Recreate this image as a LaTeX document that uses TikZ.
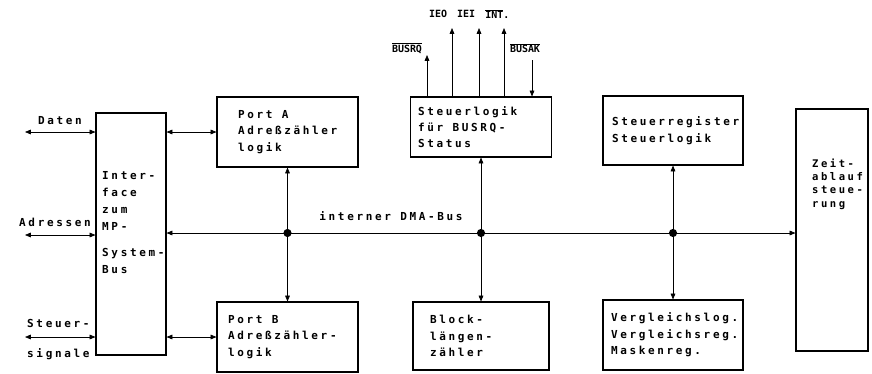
\documentclass[tikz,border=0pt]{standalone}
\usepackage{fontspec}
\newfontfamily\boxfont[LetterSpace=24]{DejaVu Sans Mono Bold}
\newfontfamily\pinmono{DejaVu Sans Mono Bold}
\usetikzlibrary{arrows.meta,calc}
\newcommand{\wgap}{\hspace{0.85em}}

\begin{document}
\begin{tikzpicture}[x=1cm,y=1cm,font=\boxfont\fontsize{9.4}{14}\selectfont,
  unit/.style={draw,line width=0.9pt,align=left,inner sep=0pt},
  lbl/.style={inner sep=0pt},
  pin/.style={inner sep=0pt,font=\pinmono\fontsize{8.5}{10}\selectfont},
  sig/.style={line width=0.6pt,-{Triangle[length=5pt,width=4pt]}},
  both/.style={line width=0.6pt,{Triangle[length=5pt,width=4pt]}-{Triangle[length=5pt,width=4pt]}},
  dot/.style={circle,fill,inner sep=0pt,minimum size=7pt}]

\useasboundingbox (0,0) rectangle (26.16,-11.19);

% blocks
\node[unit,minimum width=2.1cm,minimum height=7.26cm] (iface) at (3.93,-7.02) {};
\node[unit,minimum width=4.23cm,minimum height=2.1cm,text width=2.97cm] (porta) at (8.625,-3.96) {Port\wgap A\\Adreßzähler\\logik};
\node[unit,minimum width=4.23cm,minimum height=2.1cm,text width=3.57cm] (portb) at (8.625,-10.11) {Port\wgap B\\Adreßzähler-\\logik\\[-0.2cm]};
\node[unit,minimum width=4.23cm,minimum height=1.8cm,text width=3.78cm] (steuer) at (14.43,-3.81) {Steuerlogik\\für\wgap BUSRQ-\\Status};
\node[unit,minimum width=4.08cm,minimum height=2.04cm,text width=3.06cm] (block) at (14.43,-10.08) {Block-\\längen-\\zähler};
\node[unit,minimum width=4.2cm,minimum height=2.07cm,text width=3.66cm] (sreg) at (20.19,-3.915) {Steuerregister\\Steuerlogik};
\node[unit,minimum width=4.2cm,minimum height=2.1cm,text width=3.72cm] (vergl) at (20.19,-10.05) {Vergleichslog.\\Vergleichsreg.\\Maskenreg.};
\node[unit,minimum width=2.16cm,minimum height=7.26cm] (zeit) at (24.96,-6.90) {};

\node[lbl,anchor=north west,align=left,font=\boxfont\fontsize{9.4}{14.5}\selectfont] (ifacetxt) at (3.06,-5.15) {Inter-\\face\\zum\\MP-\\[0.27cm]System-\\Bus};
\node[lbl,anchor=north west,align=left,font=\boxfont\fontsize{9}{11.4}\selectfont] (zeittxt) at (24.36,-4.75) {Zeit-\\ablauf\\steue-\\rung};

% outside signals
\coordinate (datenend) at (0.75,-3.96);
\coordinate (adrend) at (0.75,-7.05);
\coordinate (sigend) at (0.75,-10.11);
\node[lbl] (datenlbl) at (1.8,-3.63) {Daten};
\node[lbl] (adrlbl) at (1.65,-6.66) {Adressen};
\node[lbl,anchor=west] (steuerlbl) at (0.81,-9.69) {Steuer-};
\node[lbl,anchor=west] (signallbl) at (0.81,-10.62) {signale};
\draw[both] (datenend) -- (datenend -| iface.west);
\draw[both] (adrend) -- (adrend -| iface.west);
\draw[both] (sigend) -- (sigend -| iface.west);

\draw[both] (iface.east |- porta) -- (porta.west);
\draw[both] (iface.east |- portb) -- (portb.west);

% internal bus
\node[dot] (ja) at (8.625,-6.99) {};
\node[dot] (js) at (14.43,-6.99) {};
\node[dot] (jr) at (20.19,-6.99) {};
\draw[both] (iface.east |- ja) -- (zeit.west |- ja);
\node[lbl] (buslbl) at (11.73,-6.48) {interner DMA-Bus};
\draw[sig] (ja) -- (porta.south);
\draw[sig] (ja) -- (portb.north);
\draw[sig] (js) -- (steuer.south);
\draw[sig] (js) -- (block.north);
\draw[sig] (jr) -- (sreg.south);
\draw[sig] (jr) -- (vergl.north);

% BUSRQ / interrupt lines
\coordinate (rqtop) at (12.81,-1.65);
\coordinate (ieotop) at (13.56,-0.84);
\coordinate (ieitop) at (14.37,-0.84);
\coordinate (inttop) at (15.12,-0.84);
\coordinate (aktop) at (15.96,-1.80);
\draw[sig] (rqtop |- steuer.north) -- (rqtop);
\draw[sig] (ieotop |- steuer.north) -- (ieotop);
\draw[sig] (ieitop |- steuer.north) -- (ieitop);
\draw[sig] (inttop |- steuer.north) -- (inttop);
\draw[sig] (aktop) -- (aktop |- steuer.north);
\node[pin] (rqlbl) at (12.21,-1.44) {$\overline{\mbox{BUSRQ}}$};
\node[pin] (aklbl) at (15.75,-1.44) {$\overline{\mbox{BUSAK}}$};
\node[pin] (ieolbl) at (13.14,-0.42) {IEO};
\node[pin] (ieilbl) at (13.98,-0.42) {IEI};
\node[pin] (intlbl) at (14.92,-0.42) {$\overline{\mbox{INT}}$.};
\end{tikzpicture}
\end{document}
